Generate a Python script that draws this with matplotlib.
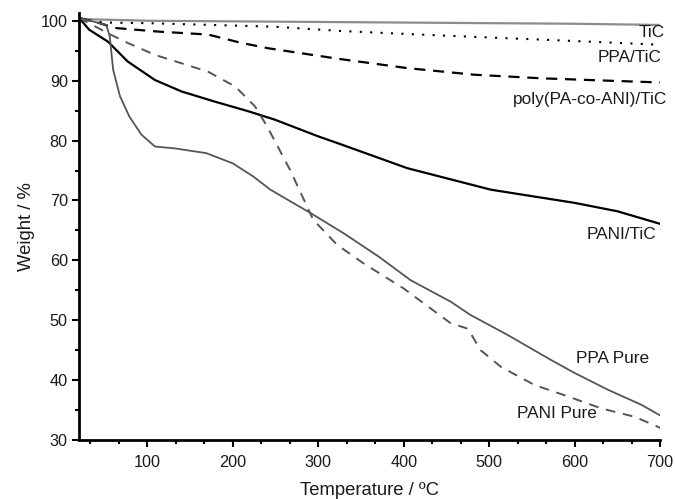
import numpy as np
import matplotlib.pyplot as plt
from matplotlib.ticker import MultipleLocator, AutoMinorLocator

plt.rcParams['font.family'] = ['Liberation Sans', 'DejaVu Sans']

# datos (temperatura en ºC, peso en %)
t_tic = [20, 100, 200, 300, 400, 500, 600, 700]
w_tic = [100.3, 100.0, 99.9, 99.8, 99.7, 99.6, 99.5, 99.3]

t_ppa_tic = [20, 50, 100, 150, 250, 325, 450, 570, 700]
w_ppa_tic = [100.3, 99.7, 99.6, 99.4, 99.0, 98.3, 97.5, 96.8, 96.0]

t_copo = [20, 44, 62, 112, 171, 210, 242, 279, 326, 404, 482, 560, 639, 700]
w_copo = [100.5, 99.6, 98.8, 98.2, 97.7, 96.3, 95.4, 94.6, 93.6, 92.1, 91.0, 90.4, 90.0, 89.7]

t_pani_tic = [20, 32, 54, 77, 109, 140, 179, 218, 249, 300, 326, 404, 502, 600, 650, 700]
w_pani_tic = [100.5, 98.5, 96.5, 93.2, 90.1, 88.2, 86.5, 84.9, 83.5, 80.7, 79.4, 75.4, 71.8, 69.6, 68.2, 66.1]

t_ppa = [20, 52, 56, 60, 68, 79, 93, 109, 132, 169, 200, 224, 244, 291, 330, 370, 408, 455, 478, 521,
         572, 600, 639, 678, 699]
w_ppa = [100.5, 99.3, 97.4, 91.8, 87.4, 84.0, 81.0, 79.0, 78.7, 77.9, 76.2, 74.0, 71.8, 67.9, 64.5,
         60.7, 56.7, 53.1, 50.9, 47.6, 43.4, 41.2, 38.4, 35.9, 34.2]

t_pani = [20, 54, 77, 109, 140, 171, 203, 226, 240, 267, 294, 322, 353, 400, 455, 475,
          490, 514, 553, 592, 631, 670, 701]
w_pani = [100.5, 97.9, 96.3, 94.3, 92.9, 91.5, 89.0, 85.7, 82.4, 75.1, 66.8, 62.6, 59.5, 55.3, 49.5, 48.6,
          45.0, 42.2, 39.2, 37.3, 35.3, 33.9, 32.0]

fig = plt.figure(figsize=(6.75, 4.99), dpi=100)
ax = fig.add_axes([0.117, 0.118, 0.861, 0.856])

ax.plot(t_tic, w_tic, color='#8c8c8c', lw=1.6)
ax.plot(t_ppa_tic, w_ppa_tic, color='black', lw=1.5, linestyle=(0, (1, 4)))
ax.plot(t_copo, w_copo, color='black', lw=1.6, linestyle=(0, (5, 3.5)))
ax.plot(t_pani_tic, w_pani_tic, color='black', lw=1.6)
ax.plot(t_ppa, w_ppa, color='#555555', lw=1.3)
ax.plot(t_pani, w_pani, color='#555555', lw=1.4, linestyle=(0, (5, 4)))

etiquetas = ['TiC', 'PPA/TiC', 'poly(PA-co-ANI)/TiC', 'PANI/TiC', 'PPA Pure', 'PANI Pure']
pos_x = [705, 702, 708, 695, 687, 626]
pos_y = [98.0, 93.8, 86.8, 64.3, 43.7, 34.5]
for txt, px, py in zip(etiquetas, pos_x, pos_y):
    ax.text(px, py, txt, ha='right', va='center', fontsize=12.4, color='#1a1a1a', clip_on=False)

ax.set_xlim(20, 700)
ax.set_ylim(30, 101.3)
ax.xaxis.set_major_locator(MultipleLocator(100))
ax.xaxis.set_minor_locator(AutoMinorLocator(3))
ax.yaxis.set_major_locator(MultipleLocator(10))
ax.yaxis.set_minor_locator(AutoMinorLocator(2))

for s in ['top', 'right']:
    ax.spines[s].set_visible(False)
for s in ['left', 'bottom']:
    ax.spines[s].set_linewidth(2)

ax.tick_params(which='major', direction='out', length=5, width=1.5, labelsize=11.7, pad=3,
               labelcolor='#1a1a1a')
ax.tick_params(axis='x', which='major', pad=6)
ax.tick_params(which='minor', direction='out', length=3, width=1.5)

ax.set_xlabel('Temperature / ºC', fontsize=13.3, labelpad=8, color='#1a1a1a')
ax.set_ylabel('Weight / %', fontsize=13.3, labelpad=4, color='#1a1a1a')

fig.savefig('out.png', dpi=100)
